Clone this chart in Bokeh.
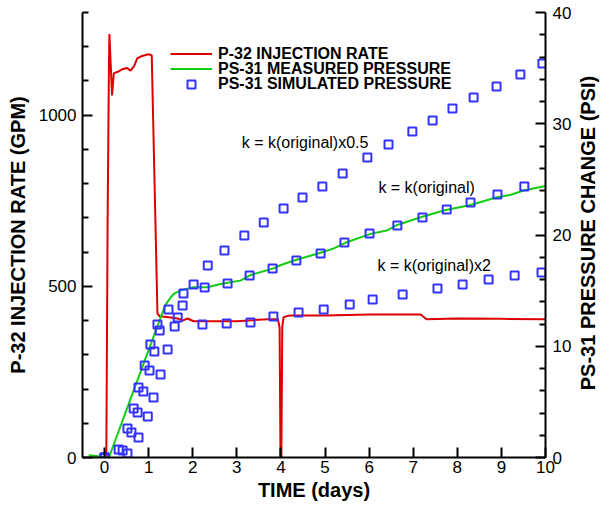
import math
from bokeh.plotting import figure
from bokeh.models import Range1d, LinearAxis, FixedTicker, Legend, LegendItem, Label
from bokeh.core.properties import value
from bokeh.embed import file_html
from bokeh.resources import INLINE

# ---------------- data ----------------
# P-32 injection rate (GPM), left axis
rate_days = [0.00, 0.04, 0.07, 0.10, 0.11, 0.17, 0.21, 0.29, 0.40, 0.51,
             0.59, 0.67, 0.74, 0.85, 1.00, 1.07, 1.20, 1.25, 1.31, 1.50, 1.66, 1.77, 1.88,
             2.02, 2.30, 3.00, 3.70, 3.93, 3.97, 3.99, 4.01, 4.03, 4.06, 4.20, 5.00, 6.00,
             7.17, 7.30, 8.00, 9.00, 10.00]
rate_gpm = [0, 0, 700, 1150, 1237, 1058, 1123, 1126, 1134, 1138,
            1130, 1143, 1166, 1173, 1178, 1175, 420, 412, 412, 409, 406, 400, 406,
            398, 398, 398, 404, 404, 380, 0, 0, 380, 410, 415, 415, 418,
            418, 404, 406, 405, 404]

# PS-31 measured pressure change (PSI), right axis
meas_days = [-0.36, -0.10, 0.10, 0.50, 0.90, 1.20, 1.30, 1.38, 1.50, 1.57, 1.72, 1.80, 2.02,
             2.33, 2.63, 2.79, 3.08, 3.31, 3.83, 4.00, 4.37, 4.90, 5.20, 5.46, 6.03, 6.40,
             6.64, 7.17, 7.69, 8.30, 8.90, 9.20, 9.50, 10.00]
meas_psi = [0.2, 0.1, 0.0, 4.3, 8.6, 11.8, 12.9, 13.7, 14.4, 14.7, 15.0, 15.1, 15.3,
            15.3, 15.6, 15.7, 15.9, 16.4, 17.0, 17.3, 17.8, 18.4, 18.8, 19.3, 20.1, 20.4,
            20.9, 21.6, 22.2, 22.7, 23.4, 23.6, 24.0, 24.4]

# PS-31 simulated pressure change (PSI), k = k(original)x0.5
sim_half_days = [0.00, 0.32, 0.52, 0.66, 0.77, 0.91, 1.04, 1.20, 1.45, 1.79, 2.02, 2.34,
                 2.72, 3.17, 3.61, 4.06, 4.49, 4.94, 5.40, 5.96, 6.44, 6.98, 7.44, 7.89,
                 8.37, 8.89, 9.43, 9.93]
sim_half_psi = [0.0, 0.72, 2.61, 4.40, 6.29, 8.27, 10.16, 11.96, 13.30, 14.74, 15.55, 17.26,
                18.61, 19.96, 21.12, 22.38, 23.37, 24.36, 25.53, 26.97, 28.13, 29.30, 30.29,
                31.37, 32.36, 33.35, 34.43, 35.42]
# k = k(original)
sim_orig_days = [0.00, 0.41, 0.61, 0.75, 0.88, 1.02, 1.13, 1.25, 1.66, 1.77, 2.27, 2.79,
                 3.29, 3.81, 4.35, 4.90, 5.44, 6.01, 6.64, 7.21, 7.76, 8.30, 8.91, 9.52]
sim_orig_psi = [0.0, 0.63, 2.25, 4.04, 5.93, 7.82, 9.53, 11.42, 12.58, 13.66, 15.28, 15.64,
                16.36, 16.99, 17.71, 18.34, 19.33, 20.13, 20.85, 21.57, 22.29, 22.92, 23.64,
                24.36]
# k = k(original)x2
sim_two_days = [0.00, 0.52, 0.77, 0.98, 1.11, 1.27, 1.43, 1.59, 2.22, 2.77, 3.31, 3.83,
                4.40, 4.97, 5.56, 6.08, 6.76, 7.55, 8.12, 8.71, 9.30, 9.91]
sim_two_psi = [0.0, 0.36, 1.80, 3.69, 5.39, 7.46, 9.71, 11.78, 11.96, 12.04, 12.13, 12.67,
               13.03, 13.30, 13.75, 14.20, 14.65, 15.19, 15.55, 16.00, 16.36, 16.63]

# annotations (day, psi)
ann_text = ["k = k(original)x0.5", "k = k(original)", "k = k(original)x2"]
ann_days = [3.11, 6.21, 6.19]
ann_psi = [28.3, 24.27, 17.26]

x_ticks = [0, 1, 2, 3, 4, 5, 6, 7, 8, 9, 10]
gpm_ticks = [0, 500, 1000]
gpm_minor = [100, 200, 300, 400, 600, 700, 800, 900, 1100, 1200, 1300]
psi_ticks = [0, 10, 20, 30, 40]
psi_minor = [2, 4, 6, 8, 12, 14, 16, 18, 22, 24, 26, 28, 32, 34, 36, 38]

# ---------------- styling ----------------
FONT = "Liberation Sans"
RED = "#dd0000"
GREEN = "#11cc11"
BLUE = "#3333ff"

p = figure(width=607, height=505, x_range=Range1d(-0.5, 10), y_range=Range1d(0, 1300),
           output_backend="svg", toolbar_location=None,
           min_border_left=82, min_border_right=62, min_border_top=12, min_border_bottom=48)
p.extra_y_ranges = {"psi": Range1d(0, 40)}
p.grid.visible = False
p.outline_line_color = None
p.background_fill_color = "white"
p.border_fill_color = "white"

raxis = LinearAxis(y_range_name="psi")
p.add_layout(raxis, "right")

xaxis = p.xaxis[0]
yaxis = p.yaxis[0]
xaxis.ticker = FixedTicker(ticks=x_ticks, minor_ticks=[])
yaxis.ticker = FixedTicker(ticks=gpm_ticks, minor_ticks=gpm_minor)
raxis.ticker = FixedTicker(ticks=psi_ticks, minor_ticks=psi_minor)

xaxis.axis_label = "TIME (days)"
yaxis.axis_label = "P-32 INJECTION RATE (GPM)"

for ax in (xaxis, yaxis, raxis):
    ax.axis_line_width = 2
    ax.axis_line_color = "black"
    ax.major_tick_in = 10
    ax.major_tick_out = 0
    ax.minor_tick_in = 6
    ax.minor_tick_out = 0
    ax.major_tick_line_width = 2
    ax.minor_tick_line_width = 2
    ax.major_tick_line_color = "black"
    ax.minor_tick_line_color = "black"
    ax.major_label_text_font = FONT
    ax.major_label_text_font_size = "17px"
    ax.major_label_text_color = "black"
    ax.axis_label_text_font = FONT
    ax.axis_label_text_font_size = "20px"
    ax.axis_label_text_font_style = "bold"
    ax.axis_label_text_color = "black"

xaxis.major_label_standoff = 3
xaxis.axis_label_standoff = 3
yaxis.major_label_standoff = 6
yaxis.axis_label_standoff = 7
raxis.major_label_standoff = 7

# right-hand title, reading bottom to top, placed in the right side panel
p.add_layout(Label(x=13, y=224.5, x_units="screen", y_units="screen",
                   text="PS-31 PRESSURE CHANGE (PSI)",
                   angle=90, angle_units="deg", text_align="center",
                   text_baseline="middle", text_font=FONT, text_font_size="20px",
                   text_font_style="bold", text_color="black"), "right")

# ---------------- glyphs ----------------
r_red = p.line(rate_days, rate_gpm, line_color=RED, line_width=2)
r_green = p.line(meas_days, meas_psi, line_color=GREEN, line_width=2, y_range_name="psi")
sq_kw = dict(marker="square", size=8, fill_color=None, line_color=BLUE, line_width=2,
             y_range_name="psi")
r_sq1 = p.scatter(sim_half_days, sim_half_psi, **sq_kw)
r_sq2 = p.scatter(sim_orig_days, sim_orig_psi, **sq_kw)
r_sq3 = p.scatter(sim_two_days, sim_two_psi, **sq_kw)

p.text(x=ann_days, y=ann_psi, text=ann_text, y_range_name="psi",
       text_font=value(FONT), text_font_size="16px", text_baseline="middle",
       text_align="left", text_color="black")

# ---------------- legends ----------------
leg_kw = dict(orientation="vertical", padding=0, spacing=0, margin=0,
              border_line_color=None, background_fill_alpha=0,
              glyph_width=42, label_standoff=6, label_text_font=FONT,
              label_text_font_size="16px", label_text_font_style="bold",
              label_text_color="black")
legA = Legend(items=[LegendItem(label="P-32 INJECTION RATE", renderers=[r_red])],
              location=(88, 394.5), glyph_height=15, label_height=15, **leg_kw)
legB = Legend(items=[LegendItem(label="PS-31 MEASURED PRESSURE", renderers=[r_green])],
              location=(88, 379.5), glyph_height=15, label_height=15, **leg_kw)
legC = Legend(items=[LegendItem(label="PS-31 SIMULATED PRESSURE", renderers=[r_sq1])],
              location=(88, 363.5), glyph_height=20, label_height=20, **leg_kw)
p.add_layout(legA, "center")
p.add_layout(legB, "center")
p.add_layout(legC, "center")

open("out.html", "w").write(file_html(p, INLINE))
